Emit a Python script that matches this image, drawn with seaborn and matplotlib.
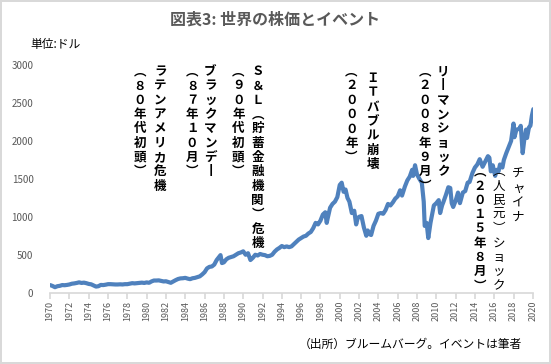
import matplotlib
matplotlib.use("Agg")
import matplotlib.pyplot as plt
import pandas as pd
import seaborn as sns

# world stock index (USD)
years = [
    1970.0, 1970.25, 1970.5, 1970.75, 1971.0, 1971.25, 1971.5, 1971.75,
    1972.0, 1972.25, 1972.5, 1972.75, 1973.0, 1973.25, 1973.5, 1973.75,
    1974.0, 1974.25, 1974.5, 1974.75, 1975.0, 1975.25, 1975.5, 1975.75,
    1976.0, 1976.25, 1976.5, 1976.75, 1977.0, 1977.25, 1977.5, 1977.75,
    1978.0, 1978.25, 1978.5, 1978.75, 1979.0, 1979.25, 1979.5, 1979.75,
    1980.0, 1980.25, 1980.5, 1980.75, 1981.0, 1981.25, 1981.5, 1981.75,
    1982.0, 1982.25, 1982.5, 1982.75, 1983.0, 1983.25, 1983.5, 1983.75,
    1984.0, 1984.25, 1984.5, 1984.75, 1985.0, 1985.25, 1985.5, 1985.75,
    1986.0, 1986.25, 1986.5, 1986.75, 1987.0, 1987.25, 1987.5, 1987.65,
    1987.8, 1988.0, 1988.25, 1988.5, 1988.75, 1989.0, 1989.25, 1989.5,
    1989.75, 1990.0, 1990.25, 1990.5, 1990.75, 1991.0, 1991.25, 1991.5,
    1991.75, 1992.0, 1992.25, 1992.5, 1992.75, 1993.0, 1993.25, 1993.5,
    1993.75, 1994.0, 1994.25, 1994.5, 1994.75, 1995.0, 1995.25, 1995.5,
    1995.75, 1996.0, 1996.25, 1996.5, 1996.75, 1997.0, 1997.25, 1997.5,
    1997.75, 1998.0, 1998.25, 1998.5, 1998.65, 1998.75, 1999.0, 1999.25,
    1999.5, 1999.75, 2000.0, 2000.2, 2000.4, 2000.6, 2000.8, 2001.0,
    2001.25, 2001.5, 2001.7, 2001.85, 2002.0, 2002.25, 2002.5, 2002.75,
    2002.9, 2003.1, 2003.25, 2003.5, 2003.75, 2004.0, 2004.25, 2004.5,
    2004.75, 2005.0, 2005.25, 2005.5, 2005.75, 2006.0, 2006.25, 2006.45,
    2006.75, 2007.0, 2007.25, 2007.5, 2007.6, 2007.8, 2008.0, 2008.25,
    2008.5, 2008.7, 2008.8, 2009.0, 2009.17, 2009.4, 2009.6, 2009.75,
    2010.0, 2010.25, 2010.4, 2010.6, 2010.75, 2011.0, 2011.25, 2011.45,
    2011.6, 2011.75, 2012.0, 2012.25, 2012.45, 2012.75, 2013.0, 2013.25,
    2013.45, 2013.75, 2014.0, 2014.25, 2014.5, 2014.8, 2015.0, 2015.35,
    2015.5, 2015.65, 2015.85, 2016.1, 2016.25, 2016.45, 2016.6, 2016.85,
    2017.0, 2017.25, 2017.5, 2017.75, 2018.0, 2018.1, 2018.3, 2018.6,
    2018.75, 2018.95, 2019.1, 2019.3, 2019.4, 2019.6, 2019.75, 2019.9,
    2020.05,
]
index_values = [
    100, 88, 72, 85, 90, 100, 98, 102,
    108, 118, 122, 128, 136, 128, 132, 125,
    115, 110, 95, 80, 85, 102, 100, 105,
    112, 112, 110, 108, 108, 110, 108, 112,
    112, 118, 125, 122, 125, 128, 132, 128,
    135, 130, 148, 160, 160, 162, 155, 148,
    150, 140, 130, 148, 165, 180, 188, 190,
    195, 185, 178, 190, 195, 205, 215, 240,
    270, 320, 340, 345, 370, 430, 470, 495,
    390, 400, 440, 460, 470, 480, 500, 520,
    530, 545, 500, 520, 430, 460, 500, 490,
    510, 500, 495, 480, 485, 500, 540, 570,
    590, 615, 600, 610, 600, 610, 640, 670,
    700, 720, 740, 750, 780, 800, 850, 920,
    900, 950, 1030, 1060, 920, 980, 1120, 1170,
    1200, 1260, 1420, 1450, 1330, 1360, 1250, 1200,
    1050, 1080, 900, 980, 1000, 1010, 860, 750,
    820, 770, 760, 880, 950, 1040, 1050, 1040,
    1090, 1170, 1150, 1190, 1240, 1270, 1350, 1280,
    1400, 1480, 1530, 1620, 1540, 1680, 1560, 1500,
    1450, 1200, 880, 920, 720, 920, 1050, 1150,
    1180, 1220, 1050, 1150, 1200, 1290, 1390, 1380,
    1180, 1130, 1210, 1320, 1180, 1320, 1340, 1450,
    1460, 1580, 1650, 1690, 1760, 1660, 1710, 1800,
    1780, 1600, 1680, 1540, 1620, 1600, 1690, 1650,
    1750, 1840, 1920, 2000, 2230, 2050, 2150, 2160,
    2200, 1840, 2000, 2150, 2040, 2180, 2200, 2330,
    2420,
]

# event labels, written top to bottom
event_texts = [
    "ラテンアメリカ危機", "︵８０年代初頭︶",
    "ブラックマンデ丨", "︵８７年１０月︶",
    "Ｓ＆Ｌ︵貯蓄金融機関︶危機", "︵９０年代初頭︶",
    "ＩＴバブル崩壊", "︵２０００年︶",
    "リ丨マンショック", "︵２００８年９月︶",
    "チャイナ", "︵人民元︶ショック", "︵２０１５年８月︶",
]
event_x = [1981.4, 1979.3, 1986.6, 1984.7, 1991.5, 1989.5,
           2003.4, 2001.2, 2010.7, 2008.8, 2018.5, 2016.5, 2014.5]
event_top = [3000, 3000, 3000, 3000, 3000, 3000,
             2910, 3000, 3000, 3000, 1650, 1680, 1680]
event_bold = [True] * 10 + [False, False, True]

x_ticks = list(range(1970, 2021, 2))
y_ticks = list(range(0, 3001, 500))

df = pd.DataFrame({"year": years, "index": index_values})

sns.set_theme(style="white")
plt.rcParams["font.family"] = ["Noto Sans CJK JP", "DejaVu Sans"]

fig = plt.figure(figsize=(5.51, 3.64), dpi=100)
fig.patch.set_edgecolor("#d9d9d9")
fig.patch.set_linewidth(1.5)
ax = fig.add_axes([0.091, 0.196, 0.876, 0.625])

sns.lineplot(data=df, x="year", y="index", ax=ax, color="#4F81BD", linewidth=3)

ax.set_xlim(1970, 2020)
ax.set_ylim(0, 3000)
ax.set_xticks(x_ticks)
ax.set_xticklabels([str(y) for y in x_ticks], rotation=90, fontsize=6.5, color="#595959")
ax.set_yticks(y_ticks)
ax.set_yticklabels([str(y) for y in y_ticks], fontsize=7, color="#595959")
ax.set_xlabel("")
ax.set_ylabel("")
for side in ["top", "right", "left"]:
    ax.spines[side].set_visible(False)
ax.spines["bottom"].set_color("#d9d9d9")
ax.tick_params(axis="x", length=4, color="#d9d9d9", pad=2, direction="out", bottom=True)
ax.tick_params(axis="y", length=0, pad=12)

for text, x, top, bold in zip(event_texts, event_x, event_top, event_bold):
    ax.text(x, top, "\n".join(text), ha="center", va="top", fontsize=9,
            fontweight="bold" if bold else "normal", color="black",
            linespacing=1.13, zorder=5)

fig.text(0.5, 0.945, "図表3: 世界の株価とイベント", ha="center", va="center",
         fontsize=11.5, fontweight="bold", color="#595959")
fig.text(0.055, 0.878, "単位:ドル", ha="left", va="center", fontsize=8.5, color="black")
fig.text(0.948, 0.055, "（出所）ブルームバーグ。イベントは筆者", ha="right", va="center",
         fontsize=8.5, color="black")

fig.savefig("out.png", dpi=100)
